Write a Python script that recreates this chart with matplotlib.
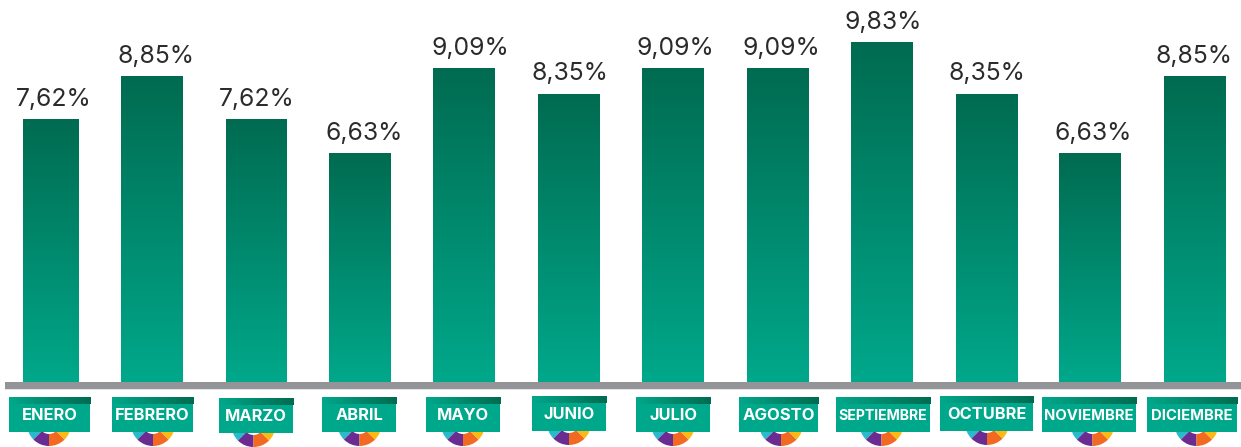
import numpy as np
import matplotlib
matplotlib.use("Agg")
import matplotlib.pyplot as plt
from matplotlib.colors import LinearSegmentedColormap
from matplotlib.patches import Rectangle, Wedge

months = ["ENERO", "FEBRERO", "MARZO", "ABRIL", "MAYO", "JUNIO", "JULIO", "AGOSTO",
          "SEPTIEMBRE", "OCTUBRE", "NOVIEMBRE", "DICIEMBRE"]
values = [7.62, 8.85, 7.62, 6.63, 9.09, 8.35, 9.09, 9.09, 9.83, 8.35, 6.63, 8.85]
value_labels = ["7,62%", "8,85%", "7,62%", "6,63%", "9,09%", "8,35%", "9,09%", "9,09%",
                "9,83%", "8,35%", "6,63%", "8,85%"]

W, H = 1241, 447
base_px = 382
px_per_unit = 34.55

# everything below is in pixels
bar_spans = [(23, 79), (121, 183), (226, 287), (329, 391), (433, 495), (538, 600),
             (642, 704), (747, 809), (851, 913), (956, 1018), (1059, 1121), (1164, 1226)]
text_centers = [54, 156, 256.5, 364, 470, 570, 675, 781, 883, 987, 1093, 1194]
badges = [(9, 90, 397), (112, 193, 397), (219, 293, 398), (322, 396, 397), (426, 500, 397),
          (532, 606, 396), (636, 710, 397), (739, 818, 397), (836, 930, 397), (940, 1033, 396),
          (1042, 1136, 397), (1147, 1237, 397)]
wheel_centers = [49, 153, 253.5, 359.5, 463, 569, 673, 781, 881.5, 987, 1092.5, 1196.5]
label_sizes = [11.8, 11.8, 11.8, 11.8, 11.8, 11.8, 11.8, 12, 10.2, 11.8, 10.7, 10.7]

fig = plt.figure(figsize=(W / 100, H / 100), dpi=100)
ax = fig.add_axes([0, 0, 1, 1])
ax.set_xlim(0, W)
ax.set_ylim((base_px - H) / px_per_unit, base_px / px_per_unit)
ax.axis("off")

bar_cmap = LinearSegmentedColormap.from_list("bar", ["#006B50", "#00A88B"])
strip_cmap = LinearSegmentedColormap.from_list("strip", ["#00A88B", "#006B50"])
grad = np.linspace(0, 1, 256).reshape(-1, 1)

for (x0, x1), tx, v, lab in zip(bar_spans, text_centers, values, value_labels):
    bar = ax.bar((x0 + x1) / 2, v, width=x1 - x0, color="none", linewidth=0)[0]
    im = ax.imshow(grad, cmap=bar_cmap, extent=(x0, x1, 0, v), aspect="auto", zorder=2)
    im.set_clip_path(bar)
    ax.text(tx, v + 0.38, lab, ha="center", va="baseline", fontsize=17.8,
            family="Inter", weight="normal", color="#2B2B2B")

# pixel overlay for the rule under the bars and the month badges
ov = fig.add_axes([0, 0, 1, 1])
ov.axis("off")
ov.patch.set_alpha(0)

ov.add_patch(Rectangle((5, 382), W - 5, 7, color="#929497", lw=0, zorder=3))
ov.add_patch(Rectangle((5, 389), W - 5, 1, color="#E4E4E5", lw=0, zorder=3))

wheel_colors = ["#29BBCB", "#6A2C91", "#F26A21", "#FDB913"]
wheel_angles = [(135, 220), (90, 135), (45, 90), (-40, 45)]

for name, (x0, x1, top), wx, size in zip(months, badges, wheel_centers, label_sizes):
    cx = (x0 + x1) / 2
    for col, (a0, a1) in zip(wheel_colors, wheel_angles):
        ov.add_patch(Wedge((wx, top + 27), 22, a0, a1, width=12, color=col, lw=0, zorder=2))
    ov.add_patch(Rectangle((x0, top), x1 - x0, 34.5, color="#00A88B", lw=0, zorder=4))
    ov.imshow(np.linspace(0, 1, 256).reshape(1, -1), cmap=strip_cmap,
              extent=(x0, x1 + 1, top + 7, top), aspect="auto", zorder=5)
    ov.text(cx, top + 18.5, name, ha="center", va="center", fontsize=size,
            family="Inter", weight="bold", color="white", zorder=6)

ov.set_xlim(0, W)
ov.set_ylim(H, 0)

fig.savefig("out.png", dpi=100)
